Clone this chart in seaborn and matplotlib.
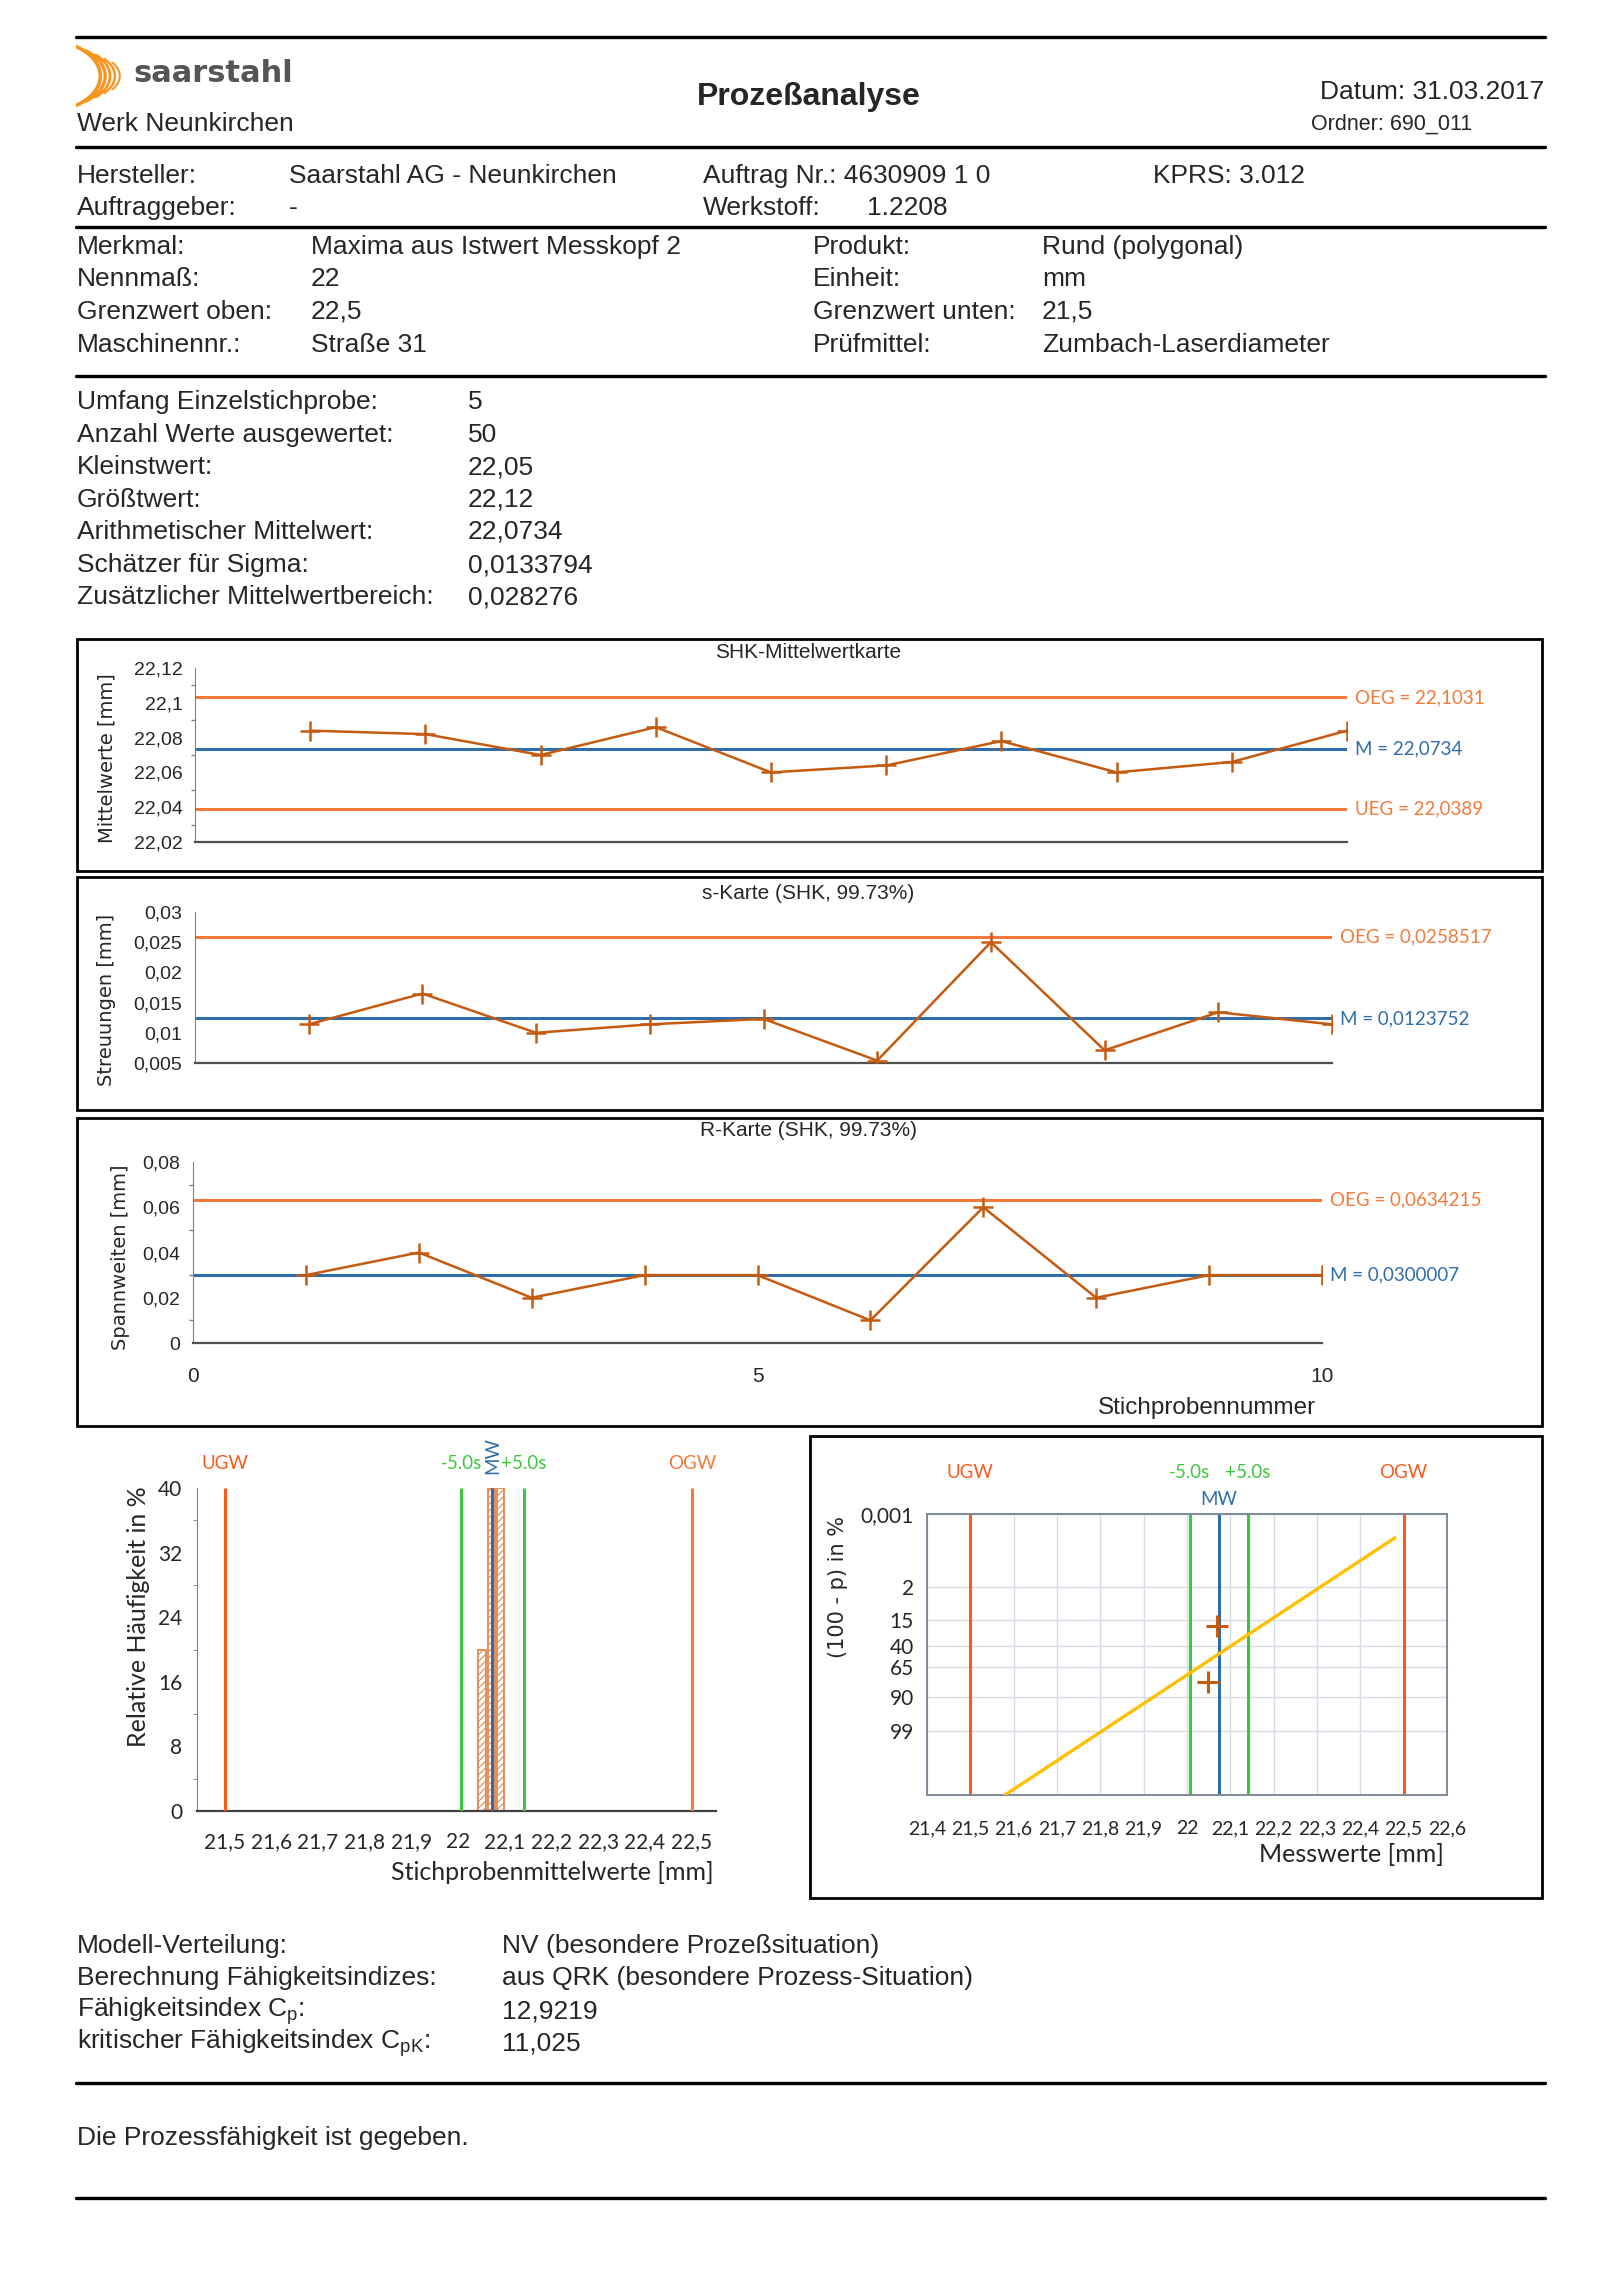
import matplotlib
matplotlib.use("Agg")
import matplotlib.pyplot as plt
import numpy as np
import seaborn as sns
from matplotlib.lines import Line2D
from matplotlib.patches import Rectangle
from matplotlib.ticker import FuncFormatter, MultipleLocator
from statistics import NormalDist

sample_nr = [1, 2, 3, 4, 5, 6, 7, 8, 9, 10]
x_means = [22.084, 22.082, 22.070, 22.086, 22.060, 22.064, 22.078, 22.060, 22.066, 22.084]
s_values = [0.0114, 0.0165, 0.0100, 0.0114, 0.0123, 0.0054, 0.0250, 0.0071, 0.0134, 0.0114]
r_values = [0.03, 0.04, 0.02, 0.03, 0.03, 0.01, 0.06, 0.02, 0.03, 0.03]

xbar_oeg, xbar_m, xbar_ueg = 22.1031, 22.0734, 22.0389
s_oeg, s_m = 0.0258517, 0.0123752
r_oeg, r_m = 0.0634215, 0.0300007

ugw, ogw = 21.5, 22.5
mw = 22.0734
sigma = 0.0133794

hist_centers = [22.051, 22.071, 22.091]
hist_pct = [20, 40, 40]

prob_x = [22.070, 22.048]
prob_q = [19.5, 79.7]
fit_x = [21.58, 22.48]
fit_q = [99.999, 0.0196]
prob_yticks = [0.001, 2, 15, 40, 65, 90, 99]

header_rows = [("Hersteller:", "Saarstahl AG - Neunkirchen", "Auftrag Nr.: 4630909 1 0", "KPRS: 3.012"),
               ("Auftraggeber:", "-", "Werkstoff:", "1.2208")]
merkmal_rows = [("Merkmal:", "Maxima aus Istwert Messkopf 2", "Produkt:", "Rund (polygonal)"),
                ("Nennmaß:", "22", "Einheit:", "mm"),
                ("Grenzwert oben:", "22,5", "Grenzwert unten:", "21,5"),
                ("Maschinennr.:", "Straße 31", "Prüfmittel:", "Zumbach-Laserdiameter")]
stat_rows = [("Umfang Einzelstichprobe:", "5"),
             ("Anzahl Werte ausgewertet:", "50"),
             ("Kleinstwert:", "22,05"),
             ("Größtwert:", "22,12"),
             ("Arithmetischer Mittelwert:", "22,0734"),
             ("Schätzer für Sigma:", "0,0133794"),
             ("Zusätzlicher Mittelwertbereich:", "0,028276")]
result_rows = [("Modell-Verteilung:", "NV (besondere Prozeßsituation)"),
               ("Berechnung Fähigkeitsindizes:", "aus QRK (besondere Prozess-Situation)"),
               (r"Fähigkeitsindex C$_{\mathregular{p}}$:", "12,9219"),
               (r"kritischer Fähigkeitsindex C$_{\mathregular{pK}}$:", "11,025")]

ORANGE = "#F47A3A"
RED_OR = "#FF5A1A"
BLUE = "#2F6EAA"
DATA = "#C55A11"
GREEN = "#3CC83C"
YELLOW = "#FFC000"

sns.set_style("white")
plt.rcParams["font.family"] = ["Liberation Sans", "DejaVu Sans"]
plt.rcParams["mathtext.fontset"] = "custom"
plt.rcParams["mathtext.rm"] = "Liberation Sans"
plt.rcParams["hatch.linewidth"] = 0.8

W, H = 1620, 2292
BODY = 19
fig = plt.figure(figsize=(16.2, 22.92), dpi=100)


def fx(x):
    return x / W


def fy(y):
    return 1 - y / H


def px_axes(x0, y0, x1, y1):
    return fig.add_axes([fx(x0), fy(y1), (x1 - x0) / W, (y1 - y0) / H])


def txt(x, y, s, size=BODY, **kw):
    fig.text(fx(x), fy(y), s, fontsize=size, va="center", **kw)


def rule(y):
    fig.add_artist(Line2D([fx(76), fx(1545)], [fy(y), fy(y)], lw=2.4, color="black"))


def frame(x0, y0, x1, y1):
    fig.add_artist(Rectangle((fx(x0), fy(y1)), (x1 - x0) / W, (y1 - y0) / H,
                             transform=fig.transFigure, fill=False, lw=2, ec="black"))


dec = FuncFormatter(lambda v, _: f"{v:g}".replace(".", ","))

# ---- Kopf ----
logo = px_axes(76, 44, 130, 108)
logo.set_xlim(0, 1)
logo.set_ylim(0, 1)
logo.axis("off")
for i in range(5):
    r = 1.0 - 0.1 * i
    cx = -0.55 + 0.19 * i
    span = 1.0 - 0.08 * i
    t = np.linspace(-span, span, 60)
    logo.plot(cx + r * np.cos(t), 0.5 + r * np.sin(t) * 0.55, color="#F7941D",
              lw=2.6 - 0.3 * i, solid_capstyle="round")
txt(133, 73, "saarstahl", size=22, family="DejaVu Sans", fontweight="bold", color="#555555")
txt(77, 124, "Werk Neunkirchen")
txt(809, 97, "Prozeßanalyse", size=23, ha="center", fontweight="bold")
txt(1544, 92, "Datum: 31.03.2017", ha="right")
txt(1311, 124, "Ordner: 690_011", size=15.5)

rule(37)
rule(147)
for (a, b, c, d), y in zip(header_rows, [176, 208]):
    txt(77, y, a)
    txt(289, y, b)
    txt(703, y, c)
    if c.startswith("Werkstoff"):
        txt(867, y, d)
    else:
        txt(1153, y, d)
rule(227)
for (a, b, c, d), y in zip(merkmal_rows, [247, 279, 312, 345]):
    txt(77, y, a)
    txt(311, y, b)
    txt(813, y, c)
    txt(1042, y, d)
rule(376)
for (a, b), y in zip(stat_rows, [402, 435, 467, 500, 532, 565, 597]):
    txt(77, y, a)
    txt(468, y, b)


# ---- Regelkarten ----
def control_chart(box, rect, values, oeg, m, ueg, ylim, ystep, minor, title, title_y,
                  ylabel, ylabel_xy, labels, xlabels=False):
    frame(*box)
    ax = px_axes(*rect)
    ax.hlines(oeg, 0, 10, color=ORANGE, lw=2.2, zorder=2)
    ax.hlines(m, 0, 10, color=BLUE, lw=2.2, zorder=2)
    if ueg is not None:
        ax.hlines(ueg, 0, 10, color=ORANGE, lw=2.2, zorder=2)
    sns.lineplot(x=sample_nr, y=values, ax=ax, color=DATA, lw=1.8, marker="+",
                 markersize=14, markeredgewidth=1.8, markeredgecolor=DATA, zorder=3)
    ax.set_xlim(0, 10)
    ax.set_ylim(*ylim)
    ax.set_xticks(range(11))
    if xlabels:
        ax.set_xticklabels(["0", "", "", "", "", "5", "", "", "", "", "10"])
    else:
        ax.set_xticklabels([])
    ax.yaxis.set_major_locator(MultipleLocator(ystep))
    ax.yaxis.set_major_formatter(dec)
    if minor:
        ax.yaxis.set_minor_locator(MultipleLocator(ystep / 2))
    ax.tick_params(which="major", direction="out", length=6, width=1, color="#808080",
                   labelsize=14, pad=3)
    ax.tick_params(axis="x", labelsize=15, pad=11)
    ax.tick_params(which="minor", direction="out", length=3, width=1, color="#808080")
    ax.yaxis.set_tick_params(which="minor", left=True)
    for side in ("top", "right"):
        ax.spines[side].set_visible(False)
    ax.spines["left"].set_color("#808080")
    ax.spines["bottom"].set_color("#505050")
    ax.spines["bottom"].set_linewidth(1.6)
    ax.set_xlabel("")
    ax.set_ylabel("")
    for lbl, yv, col in labels:
        ax.annotate(lbl, xy=(10, yv), xytext=(6, 0), textcoords="offset points",
                    va="center", color=col, fontsize=13.5, family="Lato",
                    annotation_clip=False)
    txt(808, title_y, title, size=15, ha="center")
    fig.text(fx(ylabel_xy[0]), fy(ylabel_xy[1]), ylabel, rotation=90, ha="center",
             va="center", fontsize=14, family="DejaVu Sans")
    return ax


control_chart((77, 639, 1542, 871), (195, 668, 1347, 842), x_means, xbar_oeg, xbar_m, xbar_ueg,
              (22.02, 22.12), 0.02, True, "SHK-Mittelwertkarte", 653,
              "Mittelwerte [mm]", (107, 758),
              [("OEG = 22,1031", xbar_oeg, ORANGE), ("M = 22,0734", xbar_m, BLUE),
               ("UEG = 22,0389", xbar_ueg, ORANGE)])
control_chart((77, 877, 1542, 1110), (195, 912, 1332, 1063), s_values, s_oeg, s_m, None,
              (0.005, 0.03), 0.005, False, "s-Karte (SHK, 99.73%)", 894,
              "Streuungen [mm]", (107, 1000),
              [("OEG = 0,0258517", s_oeg, ORANGE), ("M = 0,0123752", s_m, BLUE)])
control_chart((77, 1118, 1542, 1426), (193, 1162, 1322, 1343), r_values, r_oeg, r_m, None,
              (0, 0.08), 0.02, True, "R-Karte (SHK, 99.73%)", 1131,
              "Spannweiten [mm]", (120, 1257),
              [("OEG = 0,0634215", r_oeg, ORANGE), ("M = 0,0300007", r_m, BLUE)],
              xlabels=True)
txt(1316, 1408, "Stichprobennummer", size=17.5, ha="right")

# ---- Histogramm ----
lo5, hi5 = mw - 5 * sigma, mw + 5 * sigma
axh = px_axes(197, 1488, 716, 1811)
sns.barplot(x=hist_centers, y=hist_pct, native_scale=True, width=0.8, errorbar=None,
            color="white", edgecolor="#E08850", hatch="/////", linewidth=1.3, ax=axh,
            zorder=2)
for xv, col in [(ugw, RED_OR), (ogw, ORANGE), (lo5, GREEN), (hi5, GREEN), (mw, BLUE)]:
    axh.vlines(xv, 0, 40, color=col, lw=2.2, zorder=3)
axh.set_xlim(21.441, 22.552)
axh.set_ylim(0, 40)
axh.set_xticks(np.round(np.arange(21.5, 22.55, 0.1), 1))
axh.xaxis.set_major_formatter(dec)
axh.yaxis.set_major_locator(MultipleLocator(8))
axh.yaxis.set_minor_locator(MultipleLocator(4))
axh.yaxis.set_major_formatter(dec)
axh.tick_params(which="major", direction="out", length=7, color="#808080", labelsize=15)
axh.tick_params(axis="x", pad=8)
axh.tick_params(which="minor", direction="out", length=3, color="#808080")
axh.yaxis.set_tick_params(which="minor", left=True)
for lab in axh.get_xticklabels() + axh.get_yticklabels():
    lab.set_family("Lato")
for side in ("top", "right"):
    axh.spines[side].set_visible(False)
axh.spines["left"].set_color("#808080")
axh.spines["bottom"].set_color("#404040")
axh.spines["bottom"].set_linewidth(1.6)
axh.set_xlabel("")
axh.set_ylabel("")
tr = axh.get_xaxis_transform()
axh.text(ugw, 1.077, "UGW", transform=tr, ha="center", va="center", color=RED_OR,
         fontsize=13.5, family="Lato")
axh.text(ogw, 1.077, "OGW", transform=tr, ha="center", va="center", color=ORANGE,
         fontsize=13.5, family="Lato")
axh.text(lo5, 1.077, "-5.0s", transform=tr, ha="center", va="center", color=GREEN,
         fontsize=13.5, family="Lato")
axh.text(hi5, 1.077, "+5.0s", transform=tr, ha="center", va="center", color=GREEN,
         fontsize=13.5, family="Lato")
axh.text(mw, 1.1, "MW", transform=tr, ha="center", va="center", color=BLUE,
         fontsize=13.5, family="Lato", rotation=90)
txt(139, 1617, "Relative Häufigkeit in %", size=18, family="Lato", rotation=90, ha="center")
txt(714, 1872, "Stichprobenmittelwerte [mm]", size=18, family="Lato", ha="right")

# ---- Wahrscheinlichkeitsnetz ----
frame(810, 1436, 1542, 1898)
nd = NormalDist()


def zq(q):
    return nd.inv_cdf(q / 100)


axp = px_axes(927, 1514, 1447, 1795)
axp.set_axisbelow(True)
axp.grid(True, color="#D5DCE8", lw=1)
for xv, col in [(ugw, RED_OR), (ogw, RED_OR), (lo5, GREEN), (hi5, GREEN), (mw, BLUE)]:
    axp.axvline(xv, color=col, lw=2.2, zorder=2)
sns.lineplot(x=fit_x, y=[zq(q) for q in fit_q], ax=axp, color=YELLOW, lw=2.4, zorder=3)
sns.scatterplot(x=prob_x, y=[zq(q) for q in prob_q], ax=axp, marker="+", s=260,
                color=DATA, linewidth=2.2, zorder=4)
axp.set_xlim(21.4, 22.6)
axp.set_ylim(zq(99.999), zq(0.001))
axp.set_xticks(np.round(np.arange(21.4, 22.65, 0.1), 1))
axp.xaxis.set_major_formatter(dec)
axp.set_yticks([zq(q) for q in prob_yticks])
axp.set_yticklabels([f"{q:g}".replace(".", ",") for q in prob_yticks])
axp.tick_params(direction="out", length=6, color="#808080", labelsize=14)
axp.tick_params(axis="x", pad=12)
axp.tick_params(axis="y", labelsize=15)
for lab in axp.get_xticklabels() + axp.get_yticklabels():
    lab.set_family("Lato")
for sp in axp.spines.values():
    sp.set_color("#7F8A99")
    sp.set_linewidth(1.4)
axp.set_xlabel("")
axp.set_ylabel("")
trp = axp.get_xaxis_transform()
axp.text(ugw, 1.146, "UGW", transform=trp, ha="center", va="center", color=RED_OR,
         fontsize=13.5, family="Lato")
axp.text(ogw, 1.146, "OGW", transform=trp, ha="center", va="center", color=RED_OR,
         fontsize=13.5, family="Lato")
axp.text(lo5, 1.146, "-5.0s", transform=trp, ha="center", va="center", color=GREEN,
         fontsize=13.5, family="Lato")
axp.text(hi5, 1.146, "+5.0s", transform=trp, ha="center", va="center", color=GREEN,
         fontsize=13.5, family="Lato")
axp.text(mw, 1.05, "MW", transform=trp, ha="center", va="center", color=BLUE,
         fontsize=13.5, family="Lato")
txt(838, 1587, "(100 - p) in %", size=15, family="DejaVu Sans", rotation=90, ha="center")
txt(1444, 1855, "Messwerte [mm]", size=18, family="Lato", ha="right")

# ---- Ergebnis ----
for (a, b), y in zip(result_rows, [1946, 1978, 2011, 2043]):
    txt(77, y, a)
    txt(502, y, b)
rule(2083)
txt(77, 2138, "Die Prozessfähigkeit ist gegeben.")
rule(2198)

fig.savefig("out.png", dpi=100)
